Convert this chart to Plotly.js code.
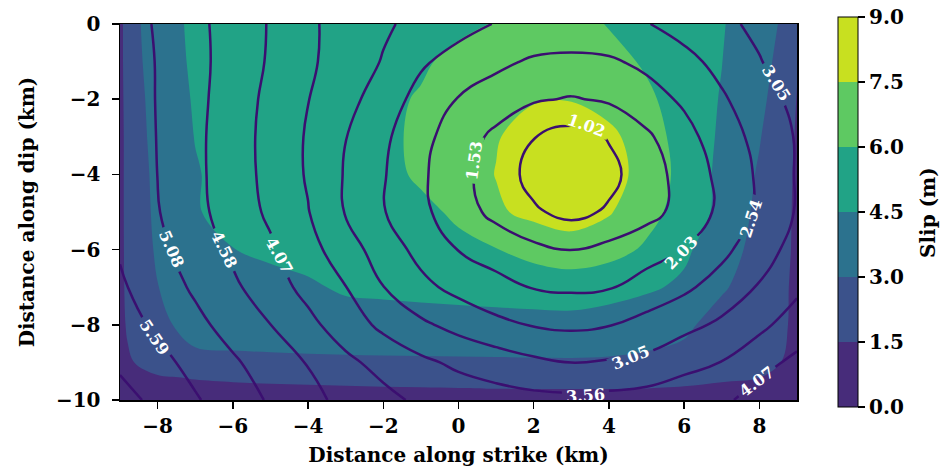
<!DOCTYPE html>
<html>
<head>
<meta charset="utf-8">
<script src="https://cdn.plot.ly/plotly-3.0.1.min.js"></script>
<style>
  html, body { margin: 0; padding: 0; background: #ffffff; }
  #chart { width: 942px; height: 472px; }
</style>
</head>
<body>
<div id="chart"></div>
<script>
// Fault-plane grid: distance along strike (km) and along dip (km)
const slipX = [-9, -8.8, -8, -7, -6, -5, -4, -3, -2, -1, 0, 1, 2, 3, 4, 5, 6, 7, 8, 8.6, 9];
const slipY = [-10, -9.7, -9.4, -9, -8, -7, -6, -5, -4, -3, -2, -1, 0];

// Slip (m), one row per depth in slipY, one column per position in slipX
const slipZ = [
  [0, 0, 0, 0, 0, 0, 0, 0, 0, 0, 0, 0, 0, 0, 0, 0, 0, 0, 0, 0, 0],
  [0.3, 0.5, 0.8, 1.0, 1.15, 1.25, 1.3, 1.35, 1.4, 1.43, 1.47, 1.51, 1.53, 1.55, 1.54, 1.49, 1.4, 1.2, 0.9, 0.6, 0.3],
  [0.5, 0.9, 1.3, 1.62, 1.75, 1.82, 1.87, 1.9, 1.95, 1.98, 2.0, 2.02, 2.03, 2.05, 2.03, 1.98, 1.88, 1.72, 1.52, 1.1, 0.5],
  [0.6, 1.2, 2.53, 2.6, 2.68, 2.72, 2.76, 2.78, 2.8, 2.81, 2.82, 2.84, 2.85, 2.86, 2.84, 2.75, 2.6, 2.35, 1.9, 1.49, 0.6],
  [0.8, 1.75, 2.6, 3.6, 3.7, 3.75, 3.8, 3.85, 3.88, 3.92, 3.95, 3.98, 4.01, 4.03, 3.85, 3.6, 3.25, 2.47, 2.0, 1.62, 1.32],
  [0.85, 2.0, 2.98, 3.48, 3.75, 4.0, 4.3, 4.7, 4.8, 4.9, 5.0, 5.1, 5.2, 5.27, 5.05, 4.7, 4.26, 3.15, 2.36, 1.7, 1.26],
  [0.85, 2.1, 3.15, 3.75, 4.47, 4.8, 5.0, 5.2, 5.4, 5.6, 5.8, 5.95, 6.45, 6.8, 6.5, 5.81, 4.75, 3.66, 2.52, 1.8, 1.3],
  [0.85, 2.15, 3.25, 4.4, 4.96, 5.1, 5.25, 5.4, 5.6, 5.8, 6.14, 7.3, 7.87, 8.24, 7.63, 6.45, 5.45, 4.09, 2.66, 1.9, 1.28],
  [0.85, 2.15, 3.32, 4.4, 4.99, 5.15, 5.3, 5.5, 5.75, 6.13, 6.8, 7.54, 8.58, 8.76, 8.14, 6.91, 5.51, 4.13, 2.85, 2.0, 1.29],
  [0.85, 2.15, 3.46, 4.54, 4.8, 5.05, 5.3, 5.55, 5.8, 6.17, 6.8, 7.42, 8.0, 8.48, 7.75, 6.97, 5.17, 4.35, 3.08, 2.12, 1.37],
  [0.9, 2.23, 3.54, 4.64, 4.85, 5.1, 5.35, 5.6, 5.85, 6.06, 6.75, 7.2, 7.42, 7.43, 7.1, 6.3, 5.23, 4.42, 3.25, 2.5, 1.45],
  [0.9, 2.4, 3.6, 4.77, 4.95, 5.15, 5.35, 5.55, 5.75, 5.9, 6.19, 6.6, 6.9, 6.95, 6.55, 5.79, 5.15, 4.52, 3.38, 2.71, 1.6],
  [0.9, 2.4, 3.77, 4.81, 4.95, 5.1, 5.25, 5.4, 5.55, 5.7, 5.85, 6.04, 6.25, 6.2, 5.97, 5.5, 5.05, 4.61, 3.55, 2.88, 1.7]
];

// Rupture time (s) on a 1 km grid
const timeX = [-9, -8, -7, -6, -5, -4, -3, -2, -1, 0, 1, 2, 3, 4, 5, 6, 7, 8, 9];
const timeY = [-10, -9, -8, -7, -6, -5, -4, -3, -2, -1, 0];
const timeZ = [
  [6.30, 5.96, 5.64, 5.34, 5.03, 4.72, 4.44, 4.21, 3.97, 3.85, 3.76, 3.70, 3.68, 3.71, 3.77, 3.86, 3.98, 4.25, 4.50],
  [6.00, 5.74, 5.44, 5.15, 4.86, 4.55, 4.18, 3.90, 3.66, 3.46, 3.31, 3.15, 3.04, 3.10, 3.17, 3.41, 3.57, 3.92, 4.17],
  [5.80, 5.51, 5.21, 4.90, 4.58, 4.20, 3.81, 3.45, 3.14, 2.89, 2.67, 2.51, 2.45, 2.52, 2.71, 2.91, 3.14, 3.43, 3.82],
  [5.66, 5.34, 5.01, 4.67, 4.29, 3.92, 3.57, 3.06, 2.67, 2.40, 2.18, 2.01, 1.96, 2.00, 2.22, 2.45, 2.75, 3.09, 3.45],
  [5.55, 5.21, 4.85, 4.48, 4.14, 3.74, 3.28, 2.81, 2.39, 2.02, 1.83, 1.64, 1.51, 1.66, 1.84, 2.05, 2.42, 2.83, 3.23],
  [5.50, 5.11, 4.72, 4.34, 3.98, 3.58, 3.02, 2.57, 2.15, 1.75, 1.39, 1.08, 0.88, 1.08, 1.36, 1.70, 2.15, 2.64, 3.09],
  [5.46, 5.08, 4.69, 4.31, 3.92, 3.51, 3.01, 2.58, 2.12, 1.69, 1.28, 0.86, 0.52, 0.88, 1.29, 1.72, 2.17, 2.62, 3.09],
  [5.42, 5.07, 4.69, 4.30, 3.91, 3.51, 3.06, 2.64, 2.19, 1.78, 1.41, 1.03, 0.82, 1.05, 1.44, 1.87, 2.29, 2.70, 3.09],
  [5.42, 5.06, 4.71, 4.33, 3.94, 3.57, 3.22, 2.80, 2.37, 2.01, 1.80, 1.58, 1.49, 1.59, 1.84, 2.11, 2.48, 2.83, 3.19],
  [5.37, 5.06, 4.72, 4.37, 4.01, 3.64, 3.33, 3.02, 2.61, 2.36, 2.14, 1.97, 1.93, 1.97, 2.14, 2.40, 2.69, 3.02, 3.38],
  [5.36, 5.03, 4.70, 4.37, 4.03, 3.64, 3.37, 3.12, 2.91, 2.71, 2.52, 2.40, 2.36, 2.40, 2.52, 2.73, 2.92, 3.18, 3.52]
];

// Slip bands and rupture-time contour spacing
const slipTicks = [0, 1.5, 3, 4.5, 6, 7.5, 9];
const timeStep = 0.50845;
const timeFirst = 2 * timeStep;
const timeLast = 6.2;

// Axis ticks
const xTicks = [-8, -6, -4, -2, 0, 2, 4, 6, 8];
const yTicks = [-10, -8, -6, -4, -2, 0];

// One colour per slip band (viridis sampled at band centres)
const bandColors = ['#472c7a', '#3b528b', '#2c728e', '#21a386', '#5ec962', '#c8e020'];

// Where each rupture-time label sits on its contour: contour multiple, centre, rotation
const labelSpots = [
  { level: 2,  x: 3.41,  y: -2.69, angle: 20 },
  { level: 3,  x: 0.41,  y: -3.62, angle: -82 },
  { level: 4,  x: 5.93,  y: -6.09, angle: -46 },
  { level: 5,  x: 7.77,  y: -5.16, angle: -72 },
  { level: 6,  x: 8.46,  y: -1.57, angle: 58 },
  { level: 6,  x: 4.58,  y: -8.86, angle: -22 },
  { level: 7,  x: 3.38,  y: -9.87, angle: -4 },
  { level: 8,  x: -4.78, y: -6.17, angle: 61 },
  { level: 8,  x: 7.93,  y: -9.50, angle: -37 },
  { level: 9,  x: -6.24, y: -6.01, angle: 64 },
  { level: 10, x: -7.62, y: -5.99, angle: 66 },
  { level: 11, x: -8.08, y: -8.33, angle: 56 }
];

const serif = 'DejaVu Serif, Liberation Serif, serif';
const boldFont = (size, color) => ({ family: serif, size: size, color: color || '#000000', weight: 'bold' });
const labelSize = 16;

const bandScale = bandColors.map((c, i) => [i / (bandColors.length - 1), c]);

const slipTrace = {
  type: 'contour',
  x: slipX,
  y: slipY,
  z: slipZ,
  zmin: slipTicks[0],
  zmax: slipTicks[slipTicks.length - 1],
  autocontour: false,
  contours: {
    coloring: 'fill',
    showlines: false,
    start: slipTicks[1],
    end: slipTicks[slipTicks.length - 2],
    size: slipTicks[1] - slipTicks[0]
  },
  line: { width: 0, smoothing: 1 },
  colorscale: bandScale,
  hoverinfo: 'skip',
  colorbar: {
    x: 1.0606, xanchor: 'left', xref: 'paper', xpad: 0,
    y: 0.5, yanchor: 'middle', ypad: 0,
    len: 390, lenmode: 'pixels',
    thickness: 20, thicknessmode: 'pixels',
    outlinewidth: 1, outlinecolor: '#000000',
    tickmode: 'array',
    tickvals: slipTicks,
    ticktext: slipTicks.map(v => v.toFixed(1)),
    ticks: 'outside', ticklen: 7, tickwidth: 1.5, tickcolor: '#000000',
    tickfont: boldFont(20)
  }
};

const timeTrace = {
  type: 'contour',
  x: timeX,
  y: timeY,
  z: timeZ,
  autocontour: false,
  showscale: false,
  contours: {
    coloring: 'none',
    showlines: true,
    start: timeFirst,
    end: timeLast,
    size: timeStep,
    showlabels: false
  },
  line: { color: '#3b0f70', width: 2.5, smoothing: 1.3 },
  hoverinfo: 'skip'
};

const labelText = s => (s.level * timeStep).toFixed(2);

const annotations = labelSpots.map(s => ({
  x: s.x, y: s.y, xref: 'x', yref: 'y',
  text: labelText(s), textangle: s.angle,
  showarrow: false, xanchor: 'center', yanchor: 'middle', borderpad: 0,
  font: boldFont(labelSize, '#ffffff')
}));

// Colour-bar caption
annotations.push({
  x: 1.1935, y: 0.5, xref: 'paper', yref: 'paper',
  text: 'Slip (m)', textangle: -90, showarrow: false,
  xanchor: 'center', yanchor: 'middle', borderpad: 0,
  font: boldFont(20)
});

const axisCommon = {
  ticks: 'outside', ticklen: 7, tickwidth: 1.5, tickcolor: '#000000',
  showline: true, mirror: true, linecolor: '#000000', linewidth: 1.5,
  showgrid: false, zeroline: false,
  tickfont: boldFont(20),
  tickmode: 'array'
};

const layout = {
  width: 942, height: 472,
  margin: { l: 120, r: 145, t: 24, b: 72 },
  paper_bgcolor: '#ffffff', plot_bgcolor: '#ffffff',
  font: boldFont(20),
  showlegend: false,
  annotations: annotations,
  xaxis: Object.assign({}, axisCommon, {
    range: [-9, 9], tickvals: xTicks, ticklabelstandoff: 0,
    title: { text: 'Distance along strike (km)', font: boldFont(20), standoff: 11 }
  }),
  yaxis: Object.assign({}, axisCommon, {
    range: [-10, 0], tickvals: yTicks, ticklabelstandoff: 7,
    title: { text: 'Distance along dip (km)', font: boldFont(20), standoff: 16 }
  })
};

// Open a gap in the contour lines under every label, and keep labels inside the plot frame
function finishLabels(gd) {
  const NS = 'http://www.w3.org/2000/svg';
  const fl = gd._fullLayout;
  const xa = fl.xaxis, ya = fl.yaxis;
  const defs = gd.querySelector('svg.main-svg defs');

  const mask = document.createElementNS(NS, 'mask');
  mask.setAttribute('id', 'label-gaps');
  mask.setAttribute('maskUnits', 'userSpaceOnUse');
  mask.setAttribute('x', -2000);
  mask.setAttribute('y', -2000);
  mask.setAttribute('width', 6000);
  mask.setAttribute('height', 6000);
  const keep = document.createElementNS(NS, 'rect');
  keep.setAttribute('x', -2000);
  keep.setAttribute('y', -2000);
  keep.setAttribute('width', 6000);
  keep.setAttribute('height', 6000);
  keep.setAttribute('fill', '#ffffff');
  mask.appendChild(keep);

  const ctx = document.createElement('canvas').getContext('2d');
  ctx.font = 'bold ' + labelSize + 'px "DejaVu Serif"';
  labelSpots.forEach(s => {
    const w = ctx.measureText(labelText(s)).width + 8;
    const h = labelSize * 0.9;
    const r = document.createElementNS(NS, 'rect');
    r.setAttribute('x', -w / 2);
    r.setAttribute('y', -h / 2);
    r.setAttribute('width', w);
    r.setAttribute('height', h);
    r.setAttribute('fill', '#000000');
    r.setAttribute('transform',
      'translate(' + xa.l2p(s.x) + ',' + ya.l2p(s.y) + ') rotate(' + s.angle + ')');
    mask.appendChild(r);
  });
  defs.appendChild(mask);
  gd.querySelectorAll('.contourlines').forEach(g => g.setAttribute('mask', 'url(#label-gaps)'));

  const clip = document.createElementNS(NS, 'clipPath');
  clip.setAttribute('id', 'label-frame');
  const box = document.createElementNS(NS, 'rect');
  box.setAttribute('x', xa._offset);
  box.setAttribute('y', ya._offset);
  box.setAttribute('width', xa._length);
  box.setAttribute('height', ya._length);
  clip.appendChild(box);
  defs.appendChild(clip);
  gd.querySelectorAll('g.annotation').forEach(g => {
    const i = +g.getAttribute('data-index');
    if (i < labelSpots.length) g.setAttribute('clip-path', 'url(#label-frame)');
  });
}

Plotly.newPlot('chart', [slipTrace, timeTrace], layout, { displayModeBar: false, staticPlot: true })
  .then(finishLabels);
</script>
</body>
</html>
